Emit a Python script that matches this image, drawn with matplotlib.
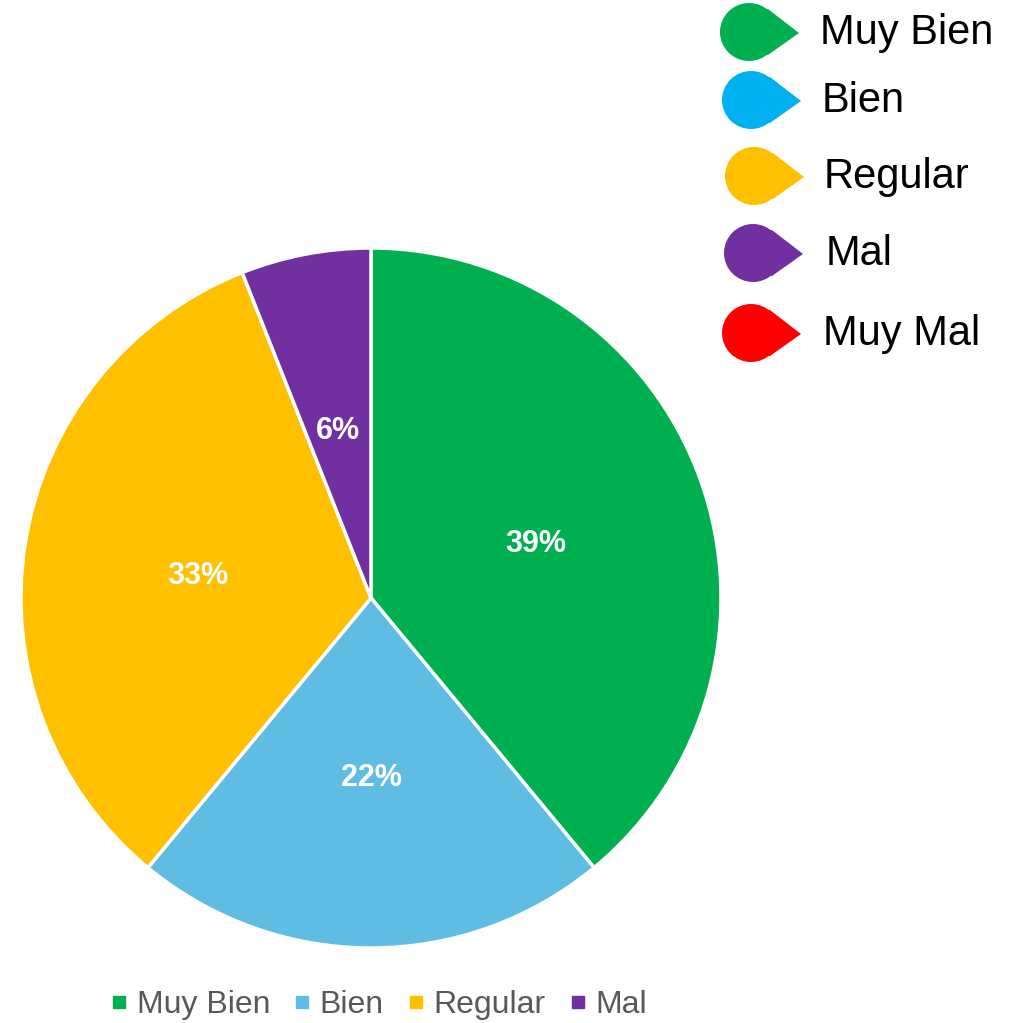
import matplotlib
matplotlib.use('Agg')
import matplotlib.pyplot as plt
from matplotlib.patches import Circle, Polygon
from matplotlib.lines import Line2D
import numpy as np

plt.rcParams['font.family'] = ['Liberation Sans', 'DejaVu Sans']

# pie data
categories = ['Muy Bien', 'Bien', 'Regular', 'Mal']
shares = [39, 22, 33, 6]
slice_colors = ['#00B050', '#5FBDE3', '#FFC000', '#7030A0']

# scale markers shown top right
scale_labels = ['Muy Bien', 'Bien', 'Regular', 'Mal', 'Muy Mal']
scale_colors = ['#00B050', '#00B0F0', '#FFC000', '#7030A0', '#FF0000']

W, H = 1025, 1023
fig = plt.figure(figsize=(W / 100, H / 100), dpi=100)

# pie axes: centre (371, 598), radius 350 px
ax = fig.add_axes([21 / W, (H - 948) / H, 700 / W, 700 / H])
wedges, _, autotexts = ax.pie(
    shares, colors=slice_colors, startangle=90, counterclock=False,
    autopct='%1.0f%%', pctdistance=0.5, radius=1,
    wedgeprops=dict(edgecolor='white', linewidth=2.5),
    textprops=dict(color='white', fontsize=22, fontweight='bold'))
for t in autotexts:
    x, y = t.get_position()
    t.set_position((x, y - 0.015))
ax.set_xlim(-1.0, 1.0)
ax.set_ylim(-1.0, 1.0)
ax.set_aspect('equal')
ax.axis('off')

# overlay in pixel coordinates for the teardrop key
ov = fig.add_axes([0, 0, 1, 1])
ov.set_xlim(0, W)
ov.set_ylim(H, 0)
ov.axis('off')

drop_x = [749, 751, 754, 753, 751]
drop_y = [32, 100, 176, 253, 333]
text_x = [820, 822, 824, 826, 823]
r = 29
for cx, cy, tx, lab, col in zip(drop_x, drop_y, text_x, scale_labels, scale_colors):
    ov.add_patch(Circle((cx, cy), r, color=col, lw=0))
    a = np.deg2rad(50)
    tri = [(cx + r * np.cos(a), cy - r * np.sin(a) - 1),
           (cx + 50, cy + 1),
           (cx + r * np.cos(a), cy + r * np.sin(a) + 1),
           (cx, cy)]
    ov.add_patch(Polygon(tri, closed=True, color=col, lw=0))
    ov.text(tx, cy + 1, lab, fontsize=30, color='black', va='center', ha='left')

# bottom legend
handles = [Line2D([], [], marker='s', linestyle='', markersize=8,
                  markerfacecolor=c, markeredgecolor=c) for c in slice_colors]
fig.legend(handles, categories, loc='center', bbox_to_anchor=(379 / W, 1 - 1005 / H),
           ncol=4, frameon=False, fontsize=23, labelcolor='#595959',
           handlelength=0.5, handletextpad=0.3, columnspacing=0.75)

fig.savefig('out.png', dpi=100)
